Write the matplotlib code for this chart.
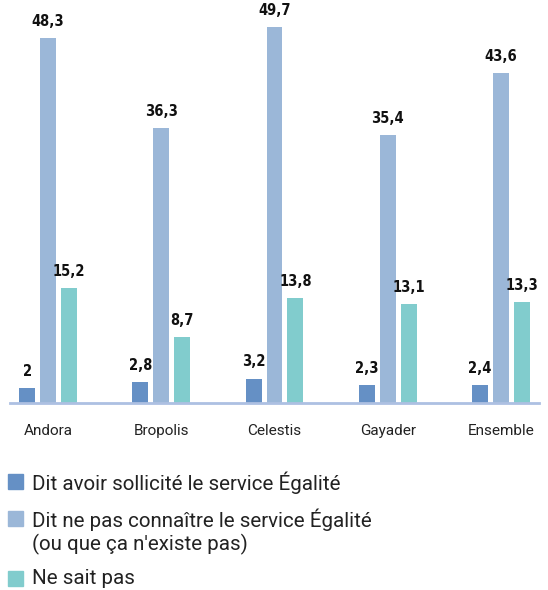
import numpy as np
import matplotlib.pyplot as plt
from matplotlib.patches import Rectangle

# Data
categories = ["Andora", "Bropolis", "Celestis", "Gayader", "Ensemble"]
sollicite = [2, 2.8, 3.2, 2.3, 2.4]
ne_connait_pas = [48.3, 36.3, 49.7, 35.4, 43.6]
ne_sait_pas = [15.2, 8.7, 13.8, 13.1, 13.3]

series_labels = [
    "Dit avoir sollicité le service Égalité",
    "Dit ne pas connaître le service Égalité\n(ou que ça n'existe pas)",
    "Ne sait pas",
]
colours = ["#6590c5", "#9bb7d8", "#81cccd"]

W, H = 548, 590
fig = plt.figure(figsize=(W / 100, H / 100), dpi=100)
ax = fig.add_axes([10 / W, 1 - 402.7 / H, 529 / W, 402.7 / H])

x = np.arange(len(categories))
width = 0.141
offset = 0.185
label_font = dict(family=["Liberation Sans Narrow", "DejaVu Sans"],
                  fontstretch="condensed", fontweight="bold",
                  fontsize=10.5, color="#111111")

for i, (vals, col) in enumerate(zip([sollicite, ne_connait_pas, ne_sait_pas], colours)):
    bars = ax.bar(x + (i - 1) * offset, vals, width, color=col)
    for b, v in zip(bars, vals):
        txt = f"{v:g}".replace(".", ",")
        ax.annotate(txt, (b.get_x() + b.get_width() / 2, v),
                    xytext=(0, 6.5), textcoords="offset points",
                    ha="center", va="bottom", **label_font)

ax.set_xlim(-0.336, 4.336)
ax.set_ylim(0, 53.3)
for s in ["top", "right", "left"]:
    ax.spines[s].set_visible(False)
ax.spines["bottom"].set_color("#adc0e2")
ax.spines["bottom"].set_linewidth(2)
ax.set_yticks([])
ax.set_xticks(x)
ax.set_xticklabels(categories, family=["Roboto", "DejaVu Sans"], fontsize=11, color="#222222")
ax.tick_params(axis="x", length=0, pad=15)

# legend drawn by hand so the square sits on the first line of the two-line label
rows = [481, 518, 578]
for lab, col, y in zip(series_labels, colours, rows):
    fig.patches.append(Rectangle((8 / W, 1 - (y + 7.5) / H), 15 / W, 15 / H,
                                 transform=fig.transFigure, color=col))
    fig.text(32 / W, 1 - (y - 9.5) / H, lab, ha="left", va="top",
             family=["Roboto", "DejaVu Sans"], fontsize=14.8, color="#222222",
             linespacing=1.15)

fig.savefig("out.png", dpi=100)
